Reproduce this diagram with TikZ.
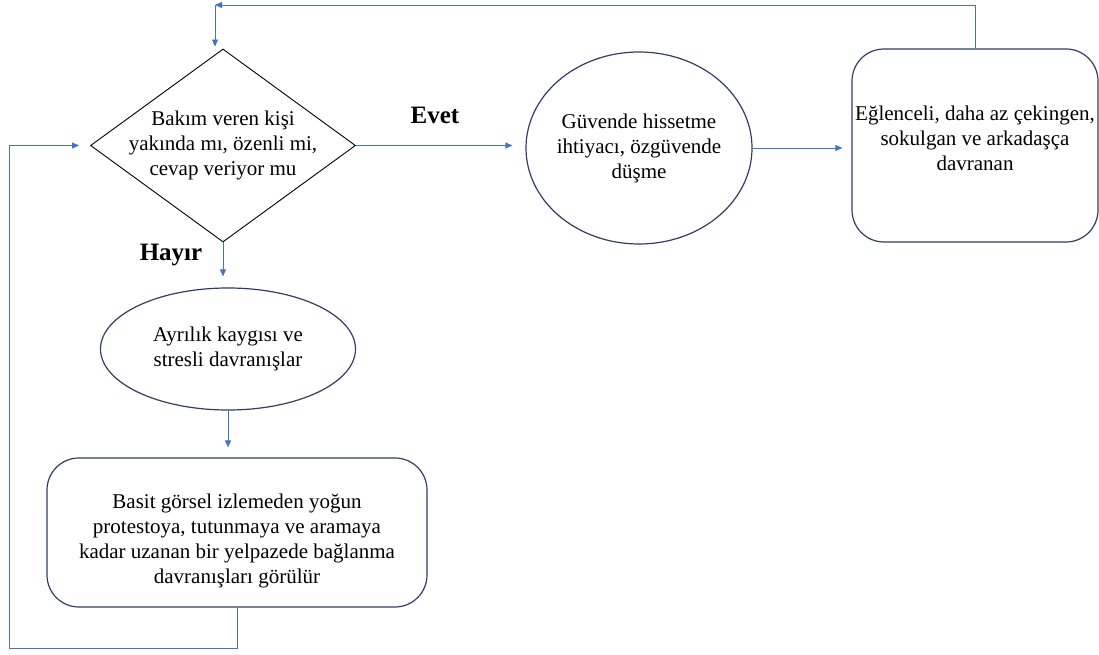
\documentclass[tikz,border=0pt]{standalone}
\usepackage{fontspec}
\setmainfont{Liberation Serif}
\usetikzlibrary{shapes.geometric,arrows.meta}

\definecolor{linkblue}{RGB}{68,114,196}
\definecolor{edgenavy}{RGB}{47,62,100}

\tikzset{
    boxtext/.style={align=center, font=\fontsize{21}{25}\selectfont},
    box/.style={draw=edgenavy, line width=1.2pt, inner sep=0pt, boxtext},
    roundbox/.style={box, rectangle, rounded corners=32pt},
    ovalbox/.style={box, ellipse},
    link/.style={draw=linkblue, line width=0.8pt, -{Triangle[length=7pt,width=6pt]}},
    answer/.style={font=\fontsize{25}{28}\selectfont\bfseries}
}

\begin{document}
\begin{tikzpicture}[x=1pt, y=-1pt]
    \useasboundingbox (0,0) rectangle (1099,655);

    % Decision in the top left
    \node[diamond, draw=black, line width=0.9pt, minimum width=265pt, minimum height=193pt, inner sep=0pt,
        label={[boxtext]center:{Bakım veren kişi\\yakında mı, özenli mi,\\cevap veriyor mu}}]
        (care) at (223,145.5) {};

    % Yes branch
    \node[ovalbox, minimum width=226pt, minimum height=192pt, inner xsep=-3pt] (secure) at (639,148)
        {Güvende hissetme\\ihtiyacı, özgüvende\\düşme};
    \node[roundbox, minimum width=246pt, minimum height=193pt,
        label={[boxtext, yshift=7pt]center:{Eğlenceli, daha az çekingen,\\sokulgan ve arkadaşça\\davranan}}]
        (friendly) at (975,145.5) {};

    % No branch
    \node[ovalbox, minimum width=255pt, minimum height=122pt] (anxiety) at (228,349)
        {Ayrılık kaygısı ve\\stresli davranışlar};
    \node[roundbox, minimum width=380pt, minimum height=149pt,
        label={[boxtext, yshift=-8pt]center:{Basit görsel izlemeden yoğun\\protestoya, tutunmaya ve aramaya\\kadar uzanan bir yelpazede bağlanma\\davranışları görülür}}]
        (attach) at (237,532.5) {};

    % Answers
    \node[answer] (yes) at (435,115) {Evet};
    \node[answer] (no) at (171,255) {Hayır};

    % Connectors
    \draw[link, shorten >=13pt] (care.east) -- (secure.west |- care.east);
    \draw[link, shorten >=9pt] (secure.east) -- (friendly.west |- secure.east);
    \draw[link, shorten >=11pt] (care.south) -- (care.south |- anxiety.north);
    \draw[link, shorten >=10pt] (anxiety.south) -- (anxiety.south |- attach.north);

    % Feedback loops
    \coordinate (topturn) at (215,5);
    \coordinate (bottomturn) at (9,648);
    \draw[link] (friendly.north) |- (topturn);
    \draw[link, shorten >=2pt] (topturn) -- (topturn |- care.north);
    \draw[link, shorten >=11pt] (attach.south) |- (bottomturn) |- (care.west);

\end{tikzpicture}
\end{document}
